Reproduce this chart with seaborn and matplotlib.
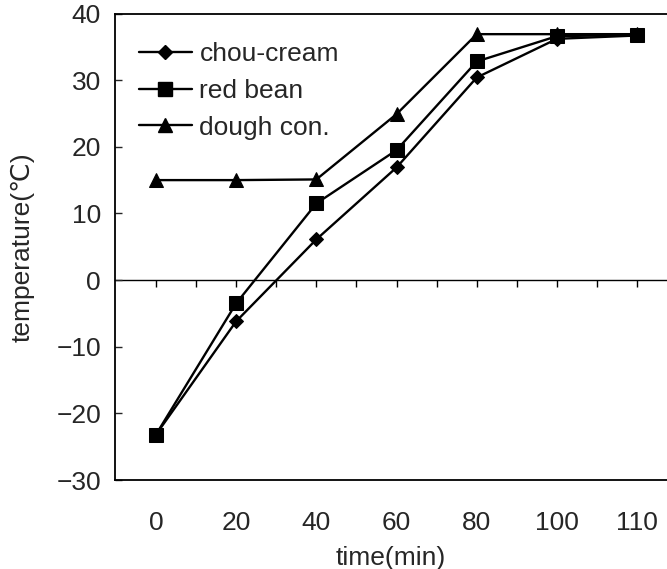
import matplotlib
matplotlib.use("Agg")
import matplotlib.pyplot as plt
from matplotlib.lines import Line2D
import seaborn as sns
import pandas as pd

time_labels = ["0", "20", "40", "60", "80", "100", "110"]
chou_cream = [-23.2, -6.2, 6.1, 16.9, 30.4, 36.2, 36.7]
red_bean = [-23.2, -3.5, 11.5, 19.5, 32.8, 36.6, 36.8]
dough_con = [15.0, 15.0, 15.1, 24.9, 36.9, 36.9, 36.9]
series_names = ["chou-cream", "red bean", "dough con."]

sns.set_theme(style="white")
plt.rcParams['font.family'] = ['Liberation Sans', 'DejaVu Sans']

rows = []
for name, vals in zip(series_names, [chou_cream, red_bean, dough_con]):
    for i, v in enumerate(vals):
        rows.append({"idx": i, "temp": v, "series": name})
df = pd.DataFrame(rows)

W, H = 667, 569
fig = plt.figure(figsize=(W / 100, H / 100), dpi=100)
left, right, top, bottom = 115, 667, 13.5, 480
ax = fig.add_axes([left / W, 1 - bottom / H, (right - left) / W, (bottom - top) / H])

markers = {"chou-cream": "D", "red bean": "s", "dough con.": "^"}
sns.lineplot(data=df, x="idx", y="temp", style="series", style_order=series_names,
             markers=markers, dashes=False, color="black", linewidth=1.7,
             markeredgecolor="black", ax=ax, legend=False)

sizes = {"D": 7.5, "s": 9.5, "^": 10}
for ln in ax.lines:
    m = ln.get_marker()
    if m in sizes:
        ln.set_markersize(sizes[m])
        ln.set_markerfacecolor("black")

ax.set_xlim(-0.51, (667 - 156) / 80.2)
ax.set_ylim(-30, 40)
ax.set_xticks(range(len(time_labels)))
ax.set_xticklabels(time_labels)
ax.set_yticks(range(-30, 41, 10))
ax.tick_params(axis="x", length=0, pad=22, labelsize=19)
ax.tick_params(axis="y", direction="in", length=5, width=1, pad=10, labelsize=19, left=True)
for s in ["left", "top", "bottom"]:
    ax.spines[s].set_color("black")
    ax.spines[s].set_linewidth(1.3)
ax.spines["right"].set_visible(False)

# zero line with upward ticks
sec = ax.secondary_xaxis(3 / 7)
sec.set_xticks([i * 0.5 for i in range(13)])
sec.tick_params(axis="x", direction="in", length=5, width=1, labelbottom=False, labeltop=False,
                top=True, bottom=False, color="black")
for s in ["bottom", "top"]:
    sec.spines[s].set_linewidth(1.0)
    sec.spines[s].set_color("black")

ax.set_xlabel("time(min)", fontsize=19, labelpad=8)
ax.set_ylabel("temperature(℃)", fontsize=19, labelpad=16)

handles = []
for name in series_names:
    mk = markers[name]
    handles.append(Line2D([0], [0], color="black", linewidth=1.7, marker=mk,
                          markersize=sizes[mk], markerfacecolor="black"))
ax.legend(handles, series_names, loc="upper left", frameon=False, fontsize=19,
          handlelength=2.0, handletextpad=0.3, labelspacing=0.48,
          bbox_to_anchor=(0.0, 0.989), borderaxespad=0.5)

fig.savefig("out.png", dpi=100)
